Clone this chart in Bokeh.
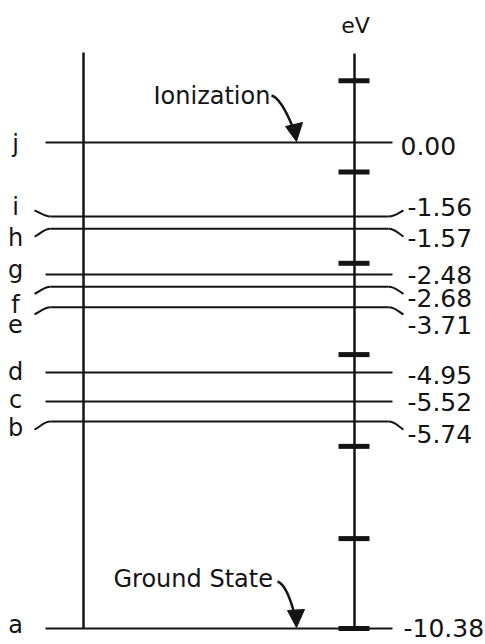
import numpy as np
from bokeh.plotting import figure
from bokeh.models import Range1d
from bokeh.core.properties import value
from bokeh.embed import file_html
from bokeh.resources import INLINE

# ---------------- data ----------------
level_letters = ["j", "i", "h", "g", "f", "e", "d", "c", "b", "a"]
energy_text = ["0.00", "-1.56", "-1.57", "-2.48", "-2.68", "-3.71",
               "-4.95", "-5.52", "-5.74", "-10.38"]
energy_ev = [0.00, -1.56, -1.57, -2.48, -2.68, -3.71, -4.95, -5.52, -5.74, -10.38]
# heights at which the (schematic) diagram draws each level, in eV of its scale
drawn_ev = [0.00, -1.58, -1.84, -2.82, -3.08, -3.52, -4.91, -5.53, -5.96, -10.38]
# levels whose labels are moved off the line with a bent leader
bent = [False, True, True, False, True, True, False, False, True, False]
# tick marks on the eV scale bar
scale_ticks_ev = [1.32, -0.63, -2.58, -4.53, -6.49, -8.46, -10.38]

# ---------------- layout ----------------
W, H = 485, 644
K = 46.82                      # screen px per eV
TOP_PAD, BOT_PAD = 142, 16     # px above top level / below bottom level
TXT_FIX = 8                    # px: lift texts so that their baseline lands where read
FONT = value("DejaVu Sans")
INK = "#141414"

y_top = drawn_ev[0] + TOP_PAD / K
y_bot = drawn_ev[-1] - BOT_PAD / K


def off(y, dpx):
    """shift a y value (eV) by dpx screen pixels downward"""
    return y - dpx / K


def toff(y, dpx):
    return off(y, dpx - TXT_FIX)


p = figure(width=W, height=H, x_range=Range1d(0, W), y_range=Range1d(y_bot, y_top),
           output_backend="svg", toolbar_location=None,
           x_axis_location=None, y_axis_location=None, min_border=0,
           outline_line_color=None, background_fill_color="white",
           border_fill_color="white")
p.grid.grid_line_color = None

ys = np.array(drawn_ev)
bent_a = np.array(bent)

# straight levels
p.segment(x0=45, x1=392, y0=ys[~bent_a], y1=ys[~bent_a], line_color=INK, line_width=2)
# bent levels: main line + curved leaders on both sides
lead_dy = {1: -6, 2: 8, 4: 7, 5: 7, 8: 8}
yb = ys[bent_a]
dys = np.array([lead_dy[i] for i in np.where(bent_a)[0]])
p.segment(x0=50, x1=388, y0=yb, y1=yb, line_color=INK, line_width=2)
p.bezier(x0=50, y0=yb, x1=34, y1=off(yb, dys), cx0=43, cy0=yb, cx1=39, cy1=off(yb, 0.75 * dys),
         line_color=INK, line_width=2)
p.bezier(x0=388, y0=yb, x1=403, y1=off(yb, dys), cx0=395, cy0=yb, cx1=399, cy1=off(yb, 0.75 * dys),
         line_color=INK, line_width=2)

# vertical lines
p.segment(x0=[83, 354], x1=[83, 354], y0=[off(drawn_ev[0], -90), off(drawn_ev[0], -89)],
          y1=[drawn_ev[-1], drawn_ev[-1]], line_color=INK, line_width=2.5)
# eV scale ticks
p.segment(x0=338, x1=369, y0=scale_ticks_ev, y1=scale_ticks_ev, line_color=INK, line_width=5)

# labels (baseline offsets in px below each drawn level)
left_base = [9, -1, 17, 3, 26, 25, 8, 7, 14, 5]
right_base = [11, -1, 17, 8, 19, 26, 11, 9, 20, 8]
right_x = [400, 407, 407, 407, 407, 407, 407, 407, 407, 403]
p.text(x=15, y=toff(ys, np.array(left_base)), text=level_letters, text_font=FONT,
       text_font_size="24px", text_align="center", text_baseline="alphabetic", text_color=INK)
p.text(x=right_x, y=toff(ys, np.array(right_base)), text=energy_text, text_font=FONT,
       text_font_size="25px", text_align="left", text_baseline="alphabetic", text_color=INK)
p.text(x=[355], y=[toff(drawn_ev[0], -109)], text=["eV"], text_font=FONT,
       text_font_size="22px", text_align="center", text_baseline="alphabetic", text_color=INK)

# annotations with curved arrows
def annot(label, lvl, tx, t_base, sx0, sy0, sx1, sy1, c0, c1, tip, c_l, c_r):
    y0 = drawn_ev[lvl]
    p.text(x=[tx], y=[toff(y0, t_base)], text=[label], text_font=FONT, text_font_size="24px",
           text_align="left", text_baseline="alphabetic", text_color=INK)
    p.bezier(x0=[sx0], y0=[off(y0, sy0)], x1=[sx1], y1=[off(y0, sy1)],
             cx0=[c0[0]], cy0=[off(y0, c0[1])], cx1=[c1[0]], cy1=[off(y0, c1[1])],
             line_color=INK, line_width=2.5)
    p.patch(x=[tip[0], c_l[0], c_r[0]], y=[off(y0, tip[1]), off(y0, c_l[1]), off(y0, c_r[1])],
            fill_color=INK, line_color=INK, line_width=1)

annot("Ionization", 0, 153, -39, 271, -47, 292, -16, (278, -45), (285, -33),
      (296, -1), (285, -16), (302, -20))
annot("Ground State", 9, 113, -41, 277, -47, 293, -18, (283, -45), (289, -32),
      (296, -1), (287, -18), (304, -19))

open("out.html", "w").write(file_html(p, INLINE))
